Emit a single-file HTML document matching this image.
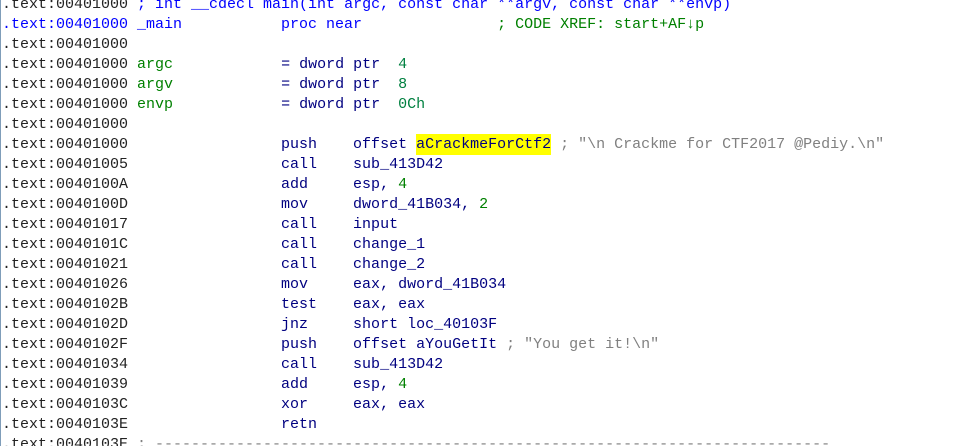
<!DOCTYPE html>
<html>
<head>
<meta charset="utf-8">
<style>
html,body{margin:0;padding:0;width:956px;height:446px;background:#fff;overflow:hidden}
#wrap{position:relative;width:956px;height:446px;overflow:hidden}
#rule{position:absolute;left:0;top:0;width:1px;height:446px;background:#7f9db9}
pre{position:absolute;left:2px;top:-5px;margin:0;font:15px/20px "Liberation Mono",monospace;color:#222;white-space:pre}
.c{color:#0000ff}
.b{color:#000080}
.g{color:#008000}
.n{color:#008040}
.s{color:#808080}
.h{background:#ffff00;color:#000080;padding:2px 0}
</style>
</head>
<body>
<div id="wrap">
<div id="rule"></div>
<pre>.text:00401000 <span class="c">; int __cdecl main(int argc, const char **argv, const char **envp)</span>
<span class="c">.text:00401000 _main           proc near</span>               <span class="g">; CODE XREF: start+AF↓p</span>
.text:00401000
.text:00401000 <span class="g">argc</span>            <span class="b">= dword ptr</span>  <span class="n">4</span>
.text:00401000 <span class="g">argv</span>            <span class="b">= dword ptr</span>  <span class="n">8</span>
.text:00401000 <span class="g">envp</span>            <span class="b">= dword ptr</span>  <span class="n">0Ch</span>
.text:00401000
.text:00401000                 <span class="b">push    offset </span><span class="h">aCrackmeForCtf2</span> <span class="s">; "\n Crackme for CTF2017 @Pediy.\n"</span>
.text:00401005                 <span class="b">call    sub_413D42</span>
.text:0040100A                 <span class="b">add     esp, </span><span class="g">4</span>
.text:0040100D                 <span class="b">mov     dword_41B034, </span><span class="g">2</span>
.text:00401017                 <span class="b">call    input</span>
.text:0040101C                 <span class="b">call    change_1</span>
.text:00401021                 <span class="b">call    change_2</span>
.text:00401026                 <span class="b">mov     eax, dword_41B034</span>
.text:0040102B                 <span class="b">test    eax, eax</span>
.text:0040102D                 <span class="b">jnz     short loc_40103F</span>
.text:0040102F                 <span class="b">push    offset aYouGetIt</span> <span class="s">; "You get it!\n"</span>
.text:00401034                 <span class="b">call    sub_413D42</span>
.text:00401039                 <span class="b">add     esp, </span><span class="g">4</span>
.text:0040103C                 <span class="b">xor     eax, eax</span>
.text:0040103E                 <span class="b">retn</span>
.text:0040103E <span class="s">; ---------------------------------------------------------------------------</span></pre>
</div>
</body>
</html>
